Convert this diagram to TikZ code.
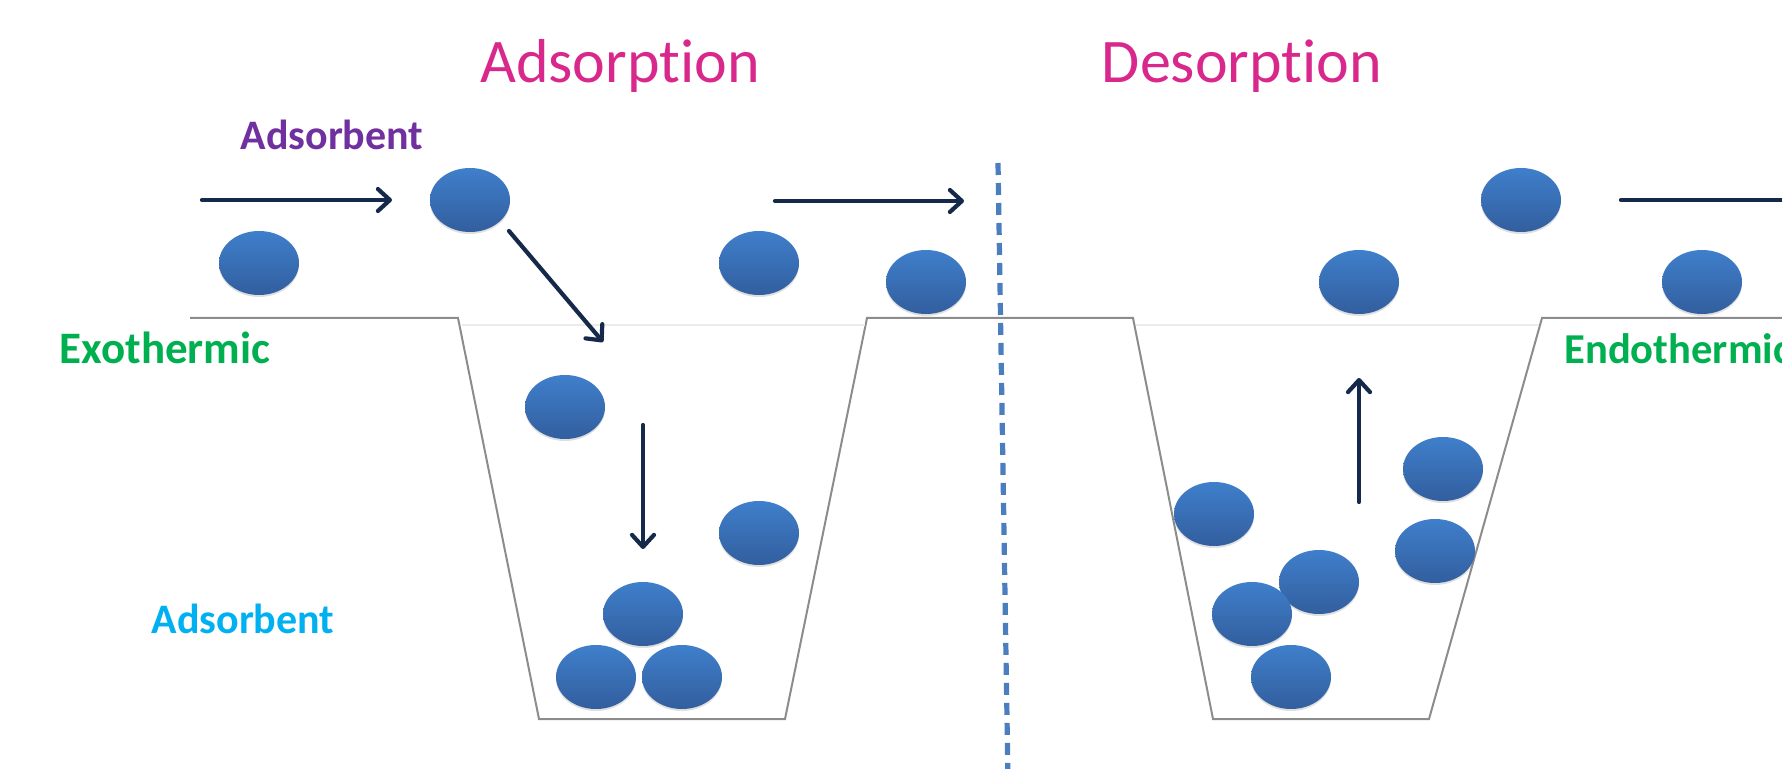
\documentclass[tikz,border=0pt]{standalone}
\usepackage{fontspec}
\setmainfont[Ligatures=NoCommon]{Carlito}
\usetikzlibrary{shapes.geometric,arrows.meta,shadows}

\definecolor{titlepink}{HTML}{D9288B}
\definecolor{labelgreen}{HTML}{00B050}
\definecolor{labelcyan}{HTML}{00B0F0}
\definecolor{labelpurple}{HTML}{7030A0}
\definecolor{arrownavy}{HTML}{152A4A}
\definecolor{balltop}{HTML}{3F7FCB}
\definecolor{ballbot}{HTML}{325E9E}
\definecolor{divider}{HTML}{4A7EBF}

\begin{document}
\begin{tikzpicture}[x=0.5pt,y=-0.5pt,
    ball/.style={ellipse, minimum width=40pt, minimum height=32pt, inner sep=0pt,
        top color=balltop, bottom color=ballbot,
        drop shadow={opacity=0.25, shadow xshift=0pt, shadow yshift=-1pt}},
    flow/.style={arrownavy, line width=2.1pt, line cap=round,
        -{Straight Barb[length=6pt,width=11pt,line cap=round,line join=round]}},
    wall/.style={draw=black!45, line width=1pt},
    title/.style={titlepink, anchor=base, font=\fontsize{31}{36}\selectfont},
    tag/.style={anchor=base, inner sep=0pt, font=\fontsize{21}{25}\selectfont\bfseries},
    heat/.style={tag, labelgreen, font=\fontsize{22.5}{27}\selectfont\bfseries}]
    \useasboundingbox (0,0) rectangle (1782,769);

    % surface with the two wells
    \draw[wall] (190,318) -- (458,318) -- (539,719) -- (785,719) -- (867,318)
        -- (1133,318) -- (1213,719) -- (1429,719) -- (1542,318) -- (1800,318);
    \draw[black!8, line width=0.8pt] (462,325) -- (865,325);
    \draw[black!8, line width=0.8pt] (1136,325) -- (1539,325);

    % dividing line
    \coordinate (divtop) at (998,163);
    \coordinate (divbot) at (1008,780);
    \draw[divider, line width=2.6pt, dash pattern=on 6pt off 4pt] (divtop) -- (divbot);

    % titles and labels
    \node[title] (adstitle) at (620,83) {Adsorption};
    \node[title] (destitle) at (1242,83) {Desorption};
    \node[tag, labelpurple] (adsorbtop) at (332,150) {Adsorbent};
    \node[heat] (exo) at (165,364) {Exothermic};
    \node[tag, labelcyan] (adsorbbot) at (243,633) {Adsorbent};
    \node[heat, anchor=base west, font=\fontsize{21.3}{25}\selectfont\bfseries] (endo) at (1564,364) {Endothermic};

    % adsorption side
    \node[ball] (b1) at (259,263) {};
    \node[ball] (b2) at (470,200) {};
    \node[ball] (b3) at (759,263) {};
    \node[ball] (b4) at (926,282) {};
    \node[ball] (b5) at (565,407) {};
    \node[ball] (b6) at (759,533) {};
    \node[ball] (b7) at (643,614) {};
    \node[ball] (b8) at (596,677) {};
    \node[ball] (b9) at (682,677) {};

    % desorption side
    \node[ball] (d1) at (1521,200) {};
    \node[ball] (d2) at (1359,282) {};
    \node[ball] (d3) at (1702,282) {};
    \node[ball] (d4) at (1214,514) {};
    \node[ball] (d5) at (1443,469) {};
    \node[ball] (d6) at (1435,551) {};
    \node[ball] (d7) at (1319,582) {};
    \node[ball] (d8) at (1252,614) {};
    \node[ball] (d9) at (1291,677) {};

    % arrows
    \coordinate (in1) at (202,200);
    \coordinate (in2) at (392,200);
    \draw[flow] (in1) -- (in2);
    \coordinate (dip1) at (509,231);
    \coordinate (dip2) at (603,342);
    \draw[flow] (dip1) -- (dip2);
    \coordinate (drop1) at (643,425);
    \coordinate (drop2) at (643,549);
    \draw[flow] (drop1) -- (drop2);
    \coordinate (out1) at (775,201);
    \coordinate (out2) at (964,201);
    \draw[flow] (out1) -- (out2);
    \coordinate (rise1) at (1359,502);
    \coordinate (rise2) at (1359,378);
    \draw[flow] (rise1) -- (rise2);
    \coordinate (away1) at (1621,200);
    \coordinate (away2) at (1860,200);
    \draw[flow] (away1) -- (away2);
\end{tikzpicture}
\end{document}
